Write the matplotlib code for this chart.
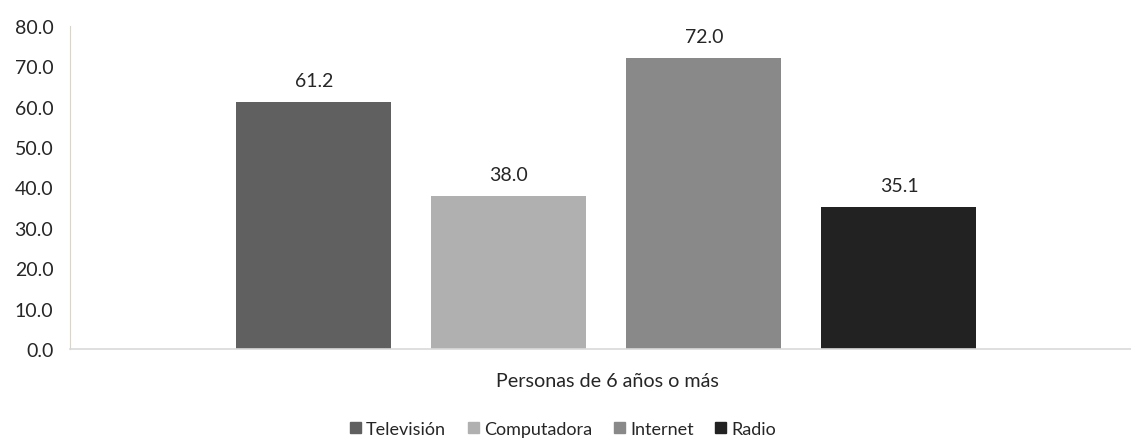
import matplotlib
matplotlib.use("Agg")
import matplotlib.pyplot as plt
import numpy as np

categories = ["Televisión", "Computadora", "Internet", "Radio"]
values = [61.2, 38.0, 72.0, 35.1]
colors = ["#606060", "#b0b0b0", "#898989", "#222222"]
yticks = [0, 10, 20, 30, 40, 50, 60, 70, 80]
xlabel = "Personas de 6 años o más"

plt.rcParams['font.family'] = ['Lato', 'DejaVu Sans']
W, H = 1131, 439
fig = plt.figure(figsize=(W/100, H/100), dpi=100)
ax = fig.add_axes([70/W, 1-350/H, (1131-70)/W, (350-27)/H])

x = np.arange(len(categories))
bars = ax.bar(x, values, width=0.795, color=colors, label=categories, zorder=2)
for xi, v in zip(x, values):
    ax.text(xi, v + 3.2, f"{v:.1f}", ha="center", va="bottom", fontsize=14, color="#262626")

ax.set_xlim(-1.251, 4.19)
ax.set_ylim(0, 80)
ax.set_yticks(yticks)
ax.set_yticklabels([f"{t:.1f}" for t in yticks], fontsize=14, color="#262626")
ax.set_xticks([])
ax.tick_params(axis="y", length=0, pad=12)
for s in ["top", "right"]:
    ax.spines[s].set_visible(False)
ax.spines["left"].set_color("#d9d6c3")
ax.spines["bottom"].set_color("#d9d9d9")
ax.spines["bottom"].set_linewidth(1.2)

fig.text(607/W, 1-382/H, xlabel, ha="center", va="center", fontsize=14.2, color="#262626")
handles = [plt.Rectangle((0, 0), 1, 1, color=c) for c in colors]
fig.legend(handles, categories, loc="center", bbox_to_anchor=(563/W, 1-430/H), ncol=4,
           frameon=False, fontsize=13, handlelength=0.6, handleheight=0.6,
           handletextpad=0.3, columnspacing=1.2, labelcolor="#262626")
fig.savefig("out.png", dpi=100)
